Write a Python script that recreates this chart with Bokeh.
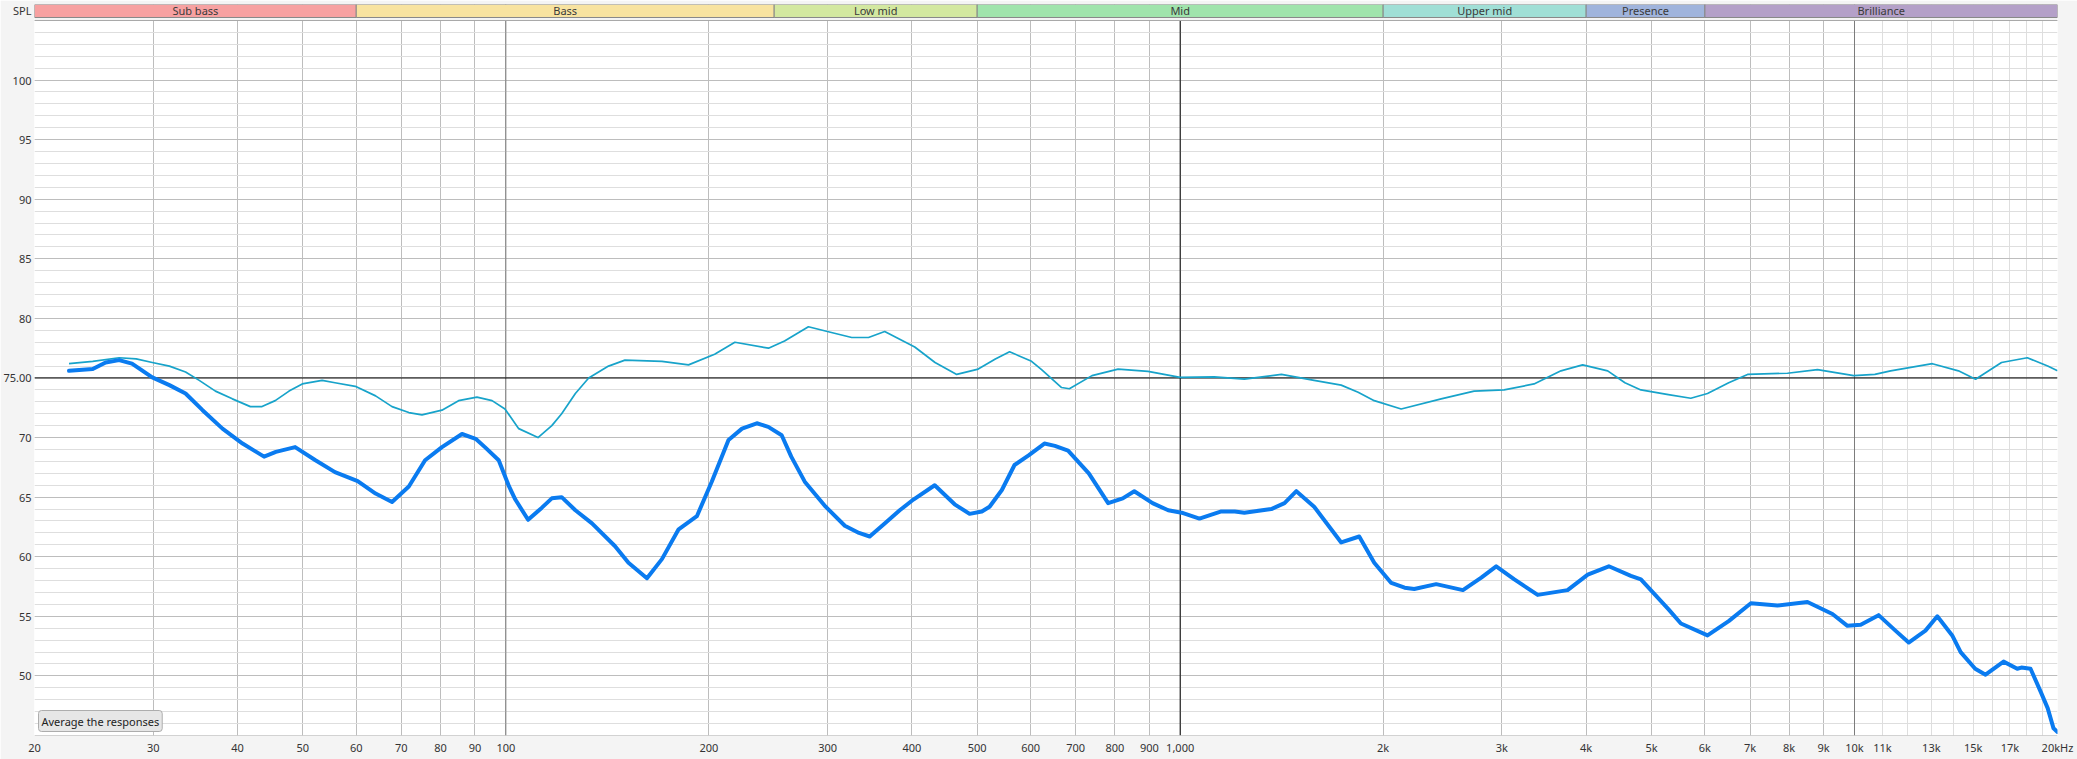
from bokeh.plotting import figure
from bokeh.models import FixedTicker, Span, Label
from bokeh.core.properties import value
from bokeh.embed import file_html
from bokeh.resources import INLINE

# ---------------- data ----------------
cyan_freq = [22.5, 24.4, 26.7, 28.3, 29.9, 31.7, 33.5, 35.1, 37.1, 39.3, 41.8, 43.5, 45.5, 47.7,
             49.9, 53.4, 55.8, 59.8, 64.1, 67.8, 71.8, 75.1, 80.4, 85.1, 90.6, 95.4, 99.7, 104.5,
             111.6, 117, 121, 126.8, 132.7, 142, 150.2, 170.4, 186.6, 204, 218.6, 245.2, 259,
             281, 305, 325.8, 345, 364.6, 404, 433, 466.3, 501.8, 532, 558.5, 602, 623, 667,
             685, 740, 809, 896, 1000, 1123, 1245, 1413, 1580, 1733, 1836, 1940, 2127, 2438,
             2728, 3023, 3348, 3670, 3952, 4305, 4566, 4822, 5296, 5718, 6054, 6508, 6940,
             7954, 8812, 9974, 10720, 11312, 13046, 14260, 15120, 16520, 18040, 19340, 20000]
cyan_spl = [76.2, 76.4, 76.7, 76.6, 76.3, 76.0, 75.5, 74.8, 73.9, 73.25, 72.6, 72.6, 73.1, 73.9,
            74.5, 74.8, 74.6, 74.3, 73.5, 72.6, 72.1, 71.9, 72.3, 73.1, 73.4, 73.1, 72.4, 70.75,
            70.0, 71.0, 72.0, 73.7, 75.0, 76.0, 76.5, 76.4, 76.1, 77.0, 78.0, 77.5, 78.1,
            79.3, 78.8, 78.4, 78.4, 78.9, 77.6, 76.3, 75.3, 75.75, 76.6, 77.2, 76.4, 75.7, 74.2,
            74.1, 75.2, 75.75, 75.55, 75.05, 75.1, 74.9, 75.3, 74.8, 74.4, 73.8, 73.1, 72.4, 73.25,
            73.9, 74.0, 74.5, 75.6, 76.1, 75.6, 74.6, 74.0, 73.6, 73.3, 73.7, 74.6, 75.3,
            75.4, 75.7, 75.2, 75.3, 75.6, 76.2, 75.6, 74.9, 76.3, 76.7, 76.0, 75.6]

blue_freq = [22.5, 23.3, 24.4, 25.5, 26.7, 27.9, 29.9, 31.7, 33.5, 35.5, 38, 40.7, 43.8, 45.6,
             48.7, 52.2, 55.8, 60.3, 64.1, 67.8, 71.8, 75.9, 80.4, 86.1, 90.2, 93.1, 97.6, 101.1,
             103.3, 107.9, 113, 117, 121, 126.8, 134.2, 145.1, 152, 161.9, 170.4, 180.4, 192,
             202, 213.9, 224, 235.6, 245, 256.5, 265, 277.5, 298, 318.2, 334, 346.4, 364.6,
             383.8, 402.2, 432.5, 463, 487.2, 508, 521.6, 544, 568, 596, 629, 652, 682, 732,
             782, 822, 855, 910, 960, 1005, 1068, 1151, 1205, 1245, 1365, 1428, 1487, 1580,
             1733, 1843, 1940, 2056, 2152, 2224, 2397, 2626, 2796, 2942, 3130, 3390, 3754,
             4022, 4322, 4660, 4822, 5296, 5528, 6054, 6508, 7020, 7686, 8516, 9274, 9762,
             10214, 10858, 11500, 12032, 12740, 13268, 13960, 14368, 15100, 15644, 16636,
             17432, 17680, 18240, 18874, 19340, 19730, 20000]
blue_spl = [75.6, 75.67, 75.75, 76.3, 76.5, 76.2, 75.05, 74.4, 73.7, 72.3, 70.75, 69.5, 68.4, 68.8,
            69.2, 68.1, 67.1, 66.35, 65.3, 64.6, 65.9, 68.1, 69.2, 70.3, 69.9, 69.2, 68.1, 65.9,
            64.8, 63.1, 64.1, 64.9, 65.0, 63.9, 62.8, 60.9, 59.5, 58.2, 59.8, 62.3, 63.4,
            66.3, 69.8, 70.75, 71.2, 70.9, 70.2, 68.4, 66.3, 64.2, 62.6, 62.0, 61.7, 62.8,
            63.9, 64.8, 66.0, 64.4, 63.6, 63.8, 64.2, 65.6, 67.7, 68.5, 69.5, 69.3, 68.9, 67.0,
            64.5, 64.9, 65.5, 64.5, 63.9, 63.7, 63.2, 63.8, 63.8, 63.7, 64.0, 64.5, 65.5, 64.2,
            61.2, 61.7, 59.5, 57.8, 57.4, 57.3, 57.7, 57.2, 58.25, 59.2, 58.1, 56.8, 57.2,
            58.5, 59.2, 58.4, 58.1, 55.6, 54.4, 53.4, 54.6, 56.1, 55.9, 56.2, 55.2, 54.2,
            54.3, 55.1, 53.8, 52.8, 53.8, 55.0, 53.4, 52.0, 50.6, 50.1, 51.2,
            50.6, 50.7, 50.6, 48.7, 47.3, 45.6, 45.3]

band_names = ["Sub bass", "Bass", "Low mid", "Mid", "Upper mid", "Presence", "Brilliance"]
band_edges = [20, 60, 250, 500, 2000, 4000, 6000, 20000]
band_colors = ["#F7A1A1", "#F8E3A0", "#D3E8A0", "#A0E4AC", "#A0DFD6", "#A0B4DC", "#B4A0C8"]

x_label_ticks = [20, 30, 40, 50, 60, 70, 80, 90, 100, 200, 300, 400, 500, 600, 700, 800, 900,
                 1000, 2000, 3000, 4000, 5000, 6000, 7000, 8000, 9000, 10000,
                 11000, 13000, 15000, 17000, 20000]
x_label_text = {1000: "1,000", 2000: "2k", 3000: "3k", 4000: "4k", 5000: "5k", 6000: "6k",
                7000: "7k", 8000: "8k", 9000: "9k", 10000: "10k", 11000: "11k", 13000: "13k",
                15000: "15k", 17000: "17k", 20000: "20kHz"}
x_major_grid = [20, 30, 40, 50, 60, 70, 80, 90, 100, 200, 300, 400, 500, 600, 700, 800, 900,
                1000, 2000, 3000, 4000, 5000, 6000, 7000, 8000, 9000, 10000, 20000]
x_faint_grid = [11000, 12000, 13000, 14000, 15000, 16000, 17000, 18000, 19000]
spl_tick = 105.8
y_label_ticks = [50, 55, 60, 65, 70, 75, 80, 85, 90, 95, 100, spl_tick]
y_label_text = {75: "75.00", spl_tick: "SPL"}
y_grid_major = [45, 50, 55, 60, 65, 70, 75, 80, 85, 90, 95, 100, 105]
y_grid_minor = list(range(45, 106))
ref_level = 75
cursor_freq = 1000
decade_lines = [100, 10000]

# ---------------- layout ----------------
W, H = 2077, 759
BL, BR, BT, BB = 32, 20, 4, 24
YMIN = 45
ppd = 11.92                      # pixels per dB
YMAX = 105 + 16.0 / ppd          # frame top sits 16 px above the 105 dB line
band_bottom = YMAX - 13.0 / ppd
band_mid = (band_bottom + YMAX) / 2

FONT = "Noto Sans"

p = figure(width=W, height=H, x_axis_type="log", x_range=(20, 20000), y_range=(YMIN, YMAX),
           output_backend="svg", toolbar_location=None,
           min_border_left=BL, min_border_right=BR, min_border_top=BT, min_border_bottom=BB,
           background_fill_color="white", border_fill_color="#F4F4F4", outline_line_color=None)

# axes
p.xaxis.ticker = FixedTicker(ticks=x_label_ticks)
p.xaxis.major_label_overrides = x_label_text
p.yaxis.ticker = FixedTicker(ticks=y_label_ticks)
p.yaxis.major_label_overrides = y_label_text
for ax in (p.xaxis[0], p.yaxis[0]):
    ax.axis_line_color = None
    ax.major_tick_line_color = None
    ax.minor_tick_line_color = None
    ax.major_tick_out = 0
    ax.major_tick_in = 0
    ax.minor_tick_out = 0
    ax.minor_tick_in = 0
    ax.major_label_text_font_size = "11px"
    ax.major_label_text_color = "#333333"
    ax.major_label_text_font = FONT
p.xaxis.major_label_standoff = 4
p.yaxis.major_label_standoff = 3

# grids
p.xgrid.ticker = FixedTicker(ticks=x_major_grid, minor_ticks=x_faint_grid)
p.xgrid.grid_line_color = "#BDBDBD"
p.xgrid.minor_grid_line_color = "#DEDEDE"
p.ygrid.ticker = FixedTicker(ticks=y_grid_major, minor_ticks=y_grid_minor)
p.ygrid.grid_line_color = "#BDBDBD"
p.ygrid.minor_grid_line_color = "#DEDEDE"

for f in decade_lines:
    p.add_layout(Span(location=f, dimension="height", line_color="#7C7C7C", line_width=1, level="underlay"))
p.add_layout(Span(location=cursor_freq, dimension="height", line_color="black", line_width=1, level="underlay"))
p.add_layout(Span(location=ref_level, dimension="width", line_color="black", line_width=1, level="underlay"))

# curves
p.line(cyan_freq, cyan_spl, line_color="#17A3CA", line_width=1.7, line_join="round")
p.line(blue_freq, blue_spl, line_color="#0A7BF0", line_width=4, line_join="round", line_cap="round")

# header band
p.quad(left=[20], right=[20000], bottom=[105], top=[YMAX], fill_color="#F4F4F4", line_color=None)
p.quad(left=band_edges[:-1], right=band_edges[1:], bottom=[band_bottom] * 7, top=[YMAX] * 7,
       fill_color=band_colors, line_color="#888888", line_width=1)
centers = [(band_edges[i] * band_edges[i + 1]) ** 0.5 for i in range(7)]
p.text(x=centers, y=[band_mid] * 7, text=band_names, text_align="center", text_baseline="middle",
       text_font_size="11px", text_color="#3A3A3A", text_font=value(FONT))

# frame borders
p.add_layout(Span(location=105, dimension="width", line_color="#A8A8A8", line_width=1))
p.add_layout(Span(location=YMIN, dimension="width", line_color="#A8A8A8", line_width=1))

# button inside the plot
p.add_layout(Label(x=20, y=YMIN + 4.0 / ppd, x_offset=4, text="Average the responses",
                   text_align="left", text_baseline="bottom",
                   text_font_size="11px", text_color="#222222", text_font=FONT,
                   border_line_color="#ADADAD", background_fill_color="#E6E6E6",
                   padding=3, border_radius=3))

open("out.html", "w").write(file_html(p, INLINE))
